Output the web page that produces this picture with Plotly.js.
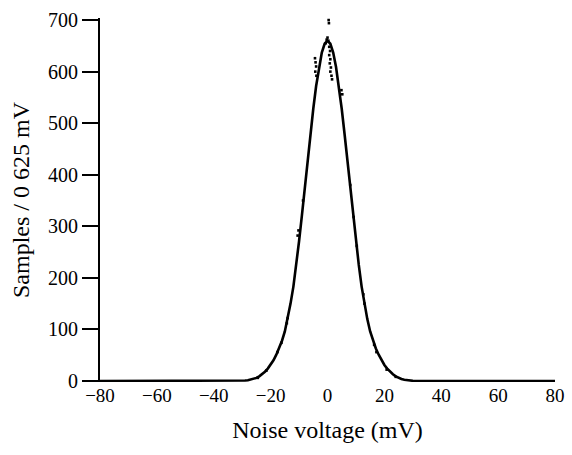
<!DOCTYPE html>
<html>
<head>
<meta charset="utf-8">
<script src="https://cdn.plot.ly/plotly-3.0.1.min.js"></script>
</head>
<body style="margin:0">
<div id="chart"></div>
<script>
// Fitted curve (noise voltage in mV, samples per 0.625 mV bin)
const fitVoltage = [-80, -50, -40, -35, -30, -29, -28, -27, -26, -25, -24, -23, -22, -21, -20,
  -19, -18, -17, -16, -15, -14, -13, -12, -11, -10, -9, -8, -7, -6, -5, -4, -3, -2, -1, 0,
  1, 2, 3, 4, 5, 6, 7, 8, 9, 10, 11, 12, 13, 14, 15, 16, 17, 18, 19, 20,
  21, 22, 23, 24, 25, 26, 27, 28, 29, 30, 35, 40, 50, 80];
const fitSamples = [0, 0, 0, 0, 0.3, 0.8, 1.5, 2.5, 4, 6, 9, 13, 18, 24, 31,
  40, 51, 63, 78, 96, 120, 150, 183, 225, 271, 321, 374, 427, 479, 528, 572, 609, 637, 654, 660,
  654, 637, 609, 572, 528, 479, 427, 374, 321, 271, 225, 183, 150, 120, 96, 78, 63, 51, 40, 31,
  24, 18, 13, 9, 6, 4, 2.5, 1.5, 0.8, 0.3, 0, 0, 0, 0];

// Measured histogram samples that stand out from the fitted curve
const sampleVoltage = [-0.6, -0.3, 0.0, 0.3, 0.6, 0.9, 0.6, 1.0, 0.8, 1.2, 1.0, 1.4, 1.6,
  -4.4, -4.2, -4.0, -4.3, -3.9, 4.9, 5.2, 0.4, 0.5,
  -8.6, -10.5, -10.2, -14.0, -14.3, -16.2, -17.6, -21.5, -24.5,
  8.0, 9.2, 10.3, 12.6, 13.0, 16.4, 17.2, 20.8, 24.0];
const sampleCount = [655, 662, 666, 660, 648, 640, 632, 624, 616, 608, 600, 592, 585,
  626, 618, 610, 600, 592, 564, 556, 700, 694,
  350, 282, 292, 122, 112, 74, 56, 20, 6,
  380, 318, 262, 168, 150, 70, 56, 22, 8];

const xTicks = [-80, -60, -40, -20, 0, 20, 40, 60, 80];
const yTicks = [0, 100, 200, 300, 400, 500, 600, 700];

const traces = [
  {
    x: fitVoltage, y: fitSamples, type: 'scatter', mode: 'lines',
    line: { color: '#000', width: 2.6 }, hoverinfo: 'skip', showlegend: false
  },
  {
    x: sampleVoltage, y: sampleCount, type: 'scatter', mode: 'markers',
    marker: { color: '#000', size: 2.6, symbol: 'square' }, cliponaxis: false,
    showlegend: false
  }
];

const layout = {
  width: 572, height: 455,
  margin: { l: 100, r: 17, t: 18, b: 73 },
  font: { family: 'Liberation Serif', size: 20 },
  showlegend: false,
  xaxis: {
    range: [-80, 80], tickvals: xTicks,
    showgrid: false, zeroline: false, showline: false, ticks: '',
    tickfont: { size: 19, color: '#000' },
    title: { text: 'Noise voltage (mV)', standoff: 16, font: { color: '#000' } },
    automargin: false
  },
  yaxis: {
    range: [-2, 704], tickvals: yTicks,
    showgrid: false, zeroline: false,
    showline: true, linecolor: '#000', linewidth: 2,
    ticks: 'outside', ticklen: 16, tickwidth: 1.5, tickcolor: '#000',
    tickfont: { color: '#000' },
    title: { text: 'Samples / 0 625 mV', standoff: 12, font: { color: '#000' } },
    automargin: false
  }
};

Plotly.newPlot('chart', traces, layout, { displayModeBar: false });
</script>
</body>
</html>
